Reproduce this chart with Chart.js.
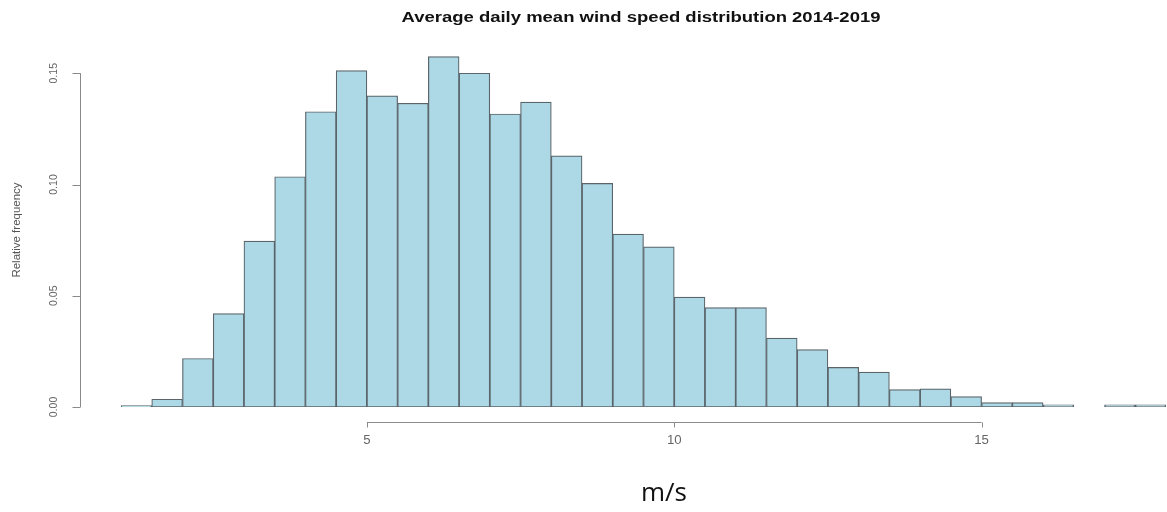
<!DOCTYPE html>
<html>
<head>
<meta charset="utf-8">
<script src="https://cdn.jsdelivr.net/npm/chart.js@4/dist/chart.umd.min.js"></script>
<style>
  html, body { margin: 0; padding: 0; background: #fff; }
  #wrap { width: 1167px; height: 512px; position: relative; }
</style>
</head>
<body>
<div id="wrap"><canvas id="hist"></canvas></div>
<script>
// bin edges every 0.5 m/s from 1 to 18
const binStarts = [1, 1.5, 2, 2.5, 3, 3.5, 4, 4.5, 5, 5.5, 6, 6.5, 7, 7.5, 8, 8.5, 9,
  9.5, 10, 10.5, 11, 11.5, 12, 12.5, 13, 13.5, 14, 14.5, 15, 15.5, 16, 16.5, 17, 17.5];
const relFreq = [0.0006, 0.0035, 0.0218, 0.042, 0.0746, 0.1035, 0.1327, 0.1512, 0.1398,
  0.1365, 0.1575, 0.150, 0.1317, 0.137, 0.1129, 0.1005, 0.0777, 0.072, 0.0494, 0.0447,
  0.0447, 0.031, 0.0258, 0.0178, 0.0157, 0.0078, 0.0082, 0.0047, 0.002, 0.002, 0.001,
  0, 0.001, 0.001];
const xTicks = [5, 10, 15];
const yTicks = [0, 0.05, 0.10, 0.15];
const yTickLabels = ['0.00', '0.05', '0.10', '0.15'];
const binWidth = 0.5;

const points = binStarts.map((b, i) => ({ x: b + binWidth / 2, y: relFreq[i] }));

// text squeezed/stretched horizontally like the original (resized) image
function stretchText(ctx, text, cx, cy, sx) {
  ctx.save();
  ctx.translate(cx, cy);
  ctx.scale(sx, 1);
  ctx.fillText(text, 0, 0);
  ctx.restore();
}

// R-style axes drawn off the plot region
const rAxes = {
  id: 'rAxes',
  afterDraw(chart) {
    const { ctx, scales: { x, y } } = chart;
    ctx.save();
    ctx.strokeStyle = '#8a8a8a';
    ctx.lineWidth = 1;
    ctx.fillStyle = '#666';
    ctx.textAlign = 'center';
    ctx.textBaseline = 'middle';

    // x axis
    const axY = 422.5;
    ctx.beginPath();
    ctx.moveTo(x.getPixelForValue(xTicks[0]), axY);
    ctx.lineTo(x.getPixelForValue(xTicks[xTicks.length - 1]), axY);
    xTicks.forEach(t => {
      const px = Math.round(x.getPixelForValue(t)) + 0.5;
      ctx.moveTo(px, axY);
      ctx.lineTo(px, axY + 5);
    });
    ctx.stroke();
    ctx.font = '12px "Liberation Sans", Arial, sans-serif';
    xTicks.forEach(t => stretchText(ctx, String(t), x.getPixelForValue(t), 441, 1.1));

    // y axis
    const axX = 80.5;
    ctx.beginPath();
    ctx.moveTo(axX, y.getPixelForValue(yTicks[0]));
    ctx.lineTo(axX, y.getPixelForValue(yTicks[yTicks.length - 1]));
    yTicks.forEach(t => {
      const py = Math.round(y.getPixelForValue(t)) + 0.5;
      ctx.moveTo(axX, py);
      ctx.lineTo(axX - 8, py);
    });
    ctx.stroke();
    ctx.font = '10.5px "Liberation Sans", Arial, sans-serif';
    yTicks.forEach((t, i) => {
      ctx.save();
      ctx.translate(54, y.getPixelForValue(t));
      ctx.rotate(-Math.PI / 2);
      ctx.fillText(yTickLabels[i], 0, 0);
      ctx.restore();
    });

    ctx.save();
    ctx.translate(17, 230);
    ctx.rotate(-Math.PI / 2);
    ctx.fillStyle = '#555';
    ctx.font = '11.5px "Liberation Sans", Arial, sans-serif';
    ctx.fillText('Relative frequency', 0, 0);
    ctx.restore();

    // title and unit label
    ctx.fillStyle = '#111';
    ctx.font = 'bold 14px "Liberation Sans", Arial, sans-serif';
    stretchText(ctx, 'Average daily mean wind speed distribution 2014-2019', 641, 18, 1.32);
    ctx.font = '26px "Open Sans", "Liberation Sans", sans-serif';
    ctx.fillText('m/s', 664, 494);
    ctx.restore();
  }
};

new Chart(document.getElementById('hist'), {
  type: 'bar',
  data: {
    datasets: [{
      data: points,
      backgroundColor: '#add8e6',
      borderColor: '#5a6469',
      borderWidth: 1.2,
      barPercentage: 1,
      categoryPercentage: 1,
      borderSkipped: false
    }]
  },
  options: {
    responsive: true,
    maintainAspectRatio: false,
    animation: false,
    layout: { padding: { left: 121, right: 1, top: 51, bottom: 105 } },
    plugins: { legend: { display: false }, tooltip: { enabled: false } },
    scales: {
      x: { type: 'linear', min: 1, max: 18, display: false, offset: false },
      y: { min: 0, max: 0.16, display: false }
    }
  },
  plugins: [rAxes]
});
</script>
</body>
</html>
